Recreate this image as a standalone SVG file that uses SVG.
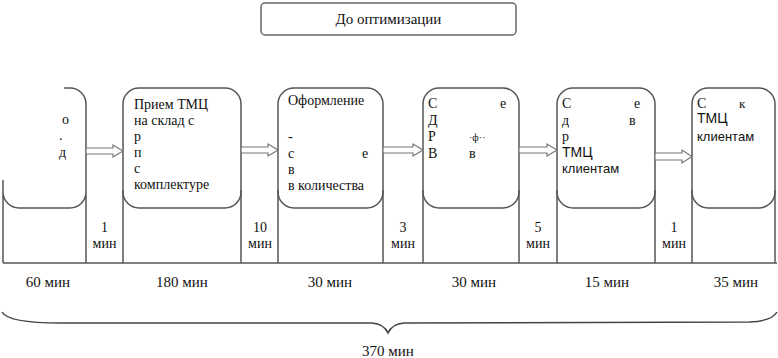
<svg xmlns="http://www.w3.org/2000/svg" width="778" height="358" viewBox="0 0 778 358">
<style>
.box{fill:#fff;stroke:#555;stroke-width:1.5}
.ln{stroke:#555;stroke-width:1.5;fill:none}
.arr{fill:#fff;stroke:#777;stroke-width:1.2}
.t{font-family:"Liberation Serif","Times New Roman",serif;fill:#111}
.s{font-family:"Liberation Sans",Arial,sans-serif;fill:#111}
</style>
<rect width="778" height="358" fill="#fff"/>
<g id="title">
<rect x="261" y="3" width="255" height="32" rx="4" fill="#fff" stroke="#666" stroke-width="1.5"/>
<text class="t" x="388.5" y="24" font-size="15" text-anchor="middle">До оптимизации</text>
</g>
<g id="box1">
<path class="ln" d="M64,88 H70 A16,16 0 0 1 86,104 V263 M86,192 A16,16 0 0 1 70,208 H19 A16,16 0 0 1 3,192 M3,180 V263"/>
<text class="t" font-size="14" x="62" y="124">о</text>
<text class="t" font-size="14" x="59" y="140">.</text>
<text class="t" font-size="14" x="59" y="157">д</text>
</g>
<g id="box2">
<rect class="box" x="123" y="88" width="118" height="120" rx="16"/>
<path class="ln" d="M123,190 V263 M241,190 V263"/>
<text class="t" font-size="14" x="134" y="109">Прием ТМЦ</text>
<text class="t" font-size="14" x="134" y="125">на склад с</text>
<text class="t" font-size="14" x="134" y="141">р</text>
<text class="t" font-size="14" x="134" y="157">п</text>
<text class="t" font-size="14" x="134" y="173">с</text>
<text class="t" font-size="14" x="134" y="189">комплектуре</text>
</g>
<g id="box3">
<rect class="box" x="278" y="88" width="105" height="120" rx="16"/>
<path class="ln" d="M278,190 V263 M383,190 V263"/>
<text class="t" font-size="14" x="288" y="105">Оформление</text>
<text class="t" font-size="14" x="288" y="141">-</text>
<text class="t" font-size="14" x="288" y="158">с</text>
<text class="t" font-size="14" x="362" y="158">е</text>
<text class="t" font-size="14" x="288" y="174">в</text>
<text class="t" font-size="14" x="288" y="190">в количества</text>
</g>
<g id="box4">
<rect class="box" x="423" y="88" width="96" height="120" rx="16"/>
<path class="ln" d="M423,190 V263 M519,190 V263"/>
<text class="t" font-size="14" x="428" y="108">С</text>
<text class="t" font-size="14" x="500" y="108">е</text>
<text class="t" font-size="14" x="428" y="125">Д</text>
<text class="t" font-size="14" x="428" y="141">Р</text>
<text class="t" font-size="10" x="469" y="141">·ф··</text>
<text class="t" font-size="14" x="428" y="158">В</text>
<text class="t" font-size="14" x="469" y="158">в</text>
</g>
<g id="box5">
<rect class="box" x="557" y="88" width="98" height="120" rx="16"/>
<path class="ln" d="M557,190 V263 M655,190 V263"/>
<text class="t" font-size="14" x="562" y="108">С</text>
<text class="t" font-size="14" x="634" y="108">е</text>
<text class="t" font-size="14" x="562" y="125">д</text>
<text class="t" font-size="14" x="629" y="125">в</text>
<text class="t" font-size="14" x="562" y="141">р</text>
<text class="s" font-size="14" x="562" y="157">ТМЦ</text>
<text class="s" font-size="13" x="562" y="173">клиентам</text>
</g>
<g id="box6">
<rect class="box" x="692" y="88" width="83" height="120" rx="16"/>
<path class="ln" d="M692,190 V263 M775,190 V263"/>
<text class="t" font-size="14" x="697" y="108">С</text>
<text class="t" font-size="13" x="739" y="108">к</text>
<text class="s" font-size="14" x="697" y="123">ТМЦ</text>
<text class="s" font-size="13" x="697" y="141">клиентам</text>
</g>
<g id="connectors">
<polygon class="arr" points="86,148 113,148 113,145 123,151 113,157 113,154 86,154"/>
<polygon class="arr" points="241,147 268,147 268,144 278,150 268,156 268,153 241,153"/>
<polygon class="arr" points="383,147 413,147 413,144 423,150 413,156 413,153 383,153"/>
<polygon class="arr" points="519,147 547,147 547,144 557,150 547,156 547,153 519,153"/>
<polygon class="arr" points="655,153 682,153 682,150 692,156.5 682,163 682,160 655,160"/>
</g>
<g id="timeline">
<line class="ln" x1="3" y1="263" x2="777" y2="263"/>
<g class="t" font-size="14" text-anchor="middle">
<text x="104.5" y="232">1</text><text x="104.5" y="248">мин</text>
<text x="260" y="232">10</text><text x="260" y="248">мин</text>
<text x="403" y="232">3</text><text x="403" y="248">мин</text>
<text x="538" y="232">5</text><text x="538" y="248">мин</text>
<text x="674" y="232">1</text><text x="674" y="248">мин</text>
</g>
<g class="t" font-size="15" text-anchor="middle">
<text x="48" y="287">60 мин</text>
<text x="182" y="287">180 мин</text>
<text x="330" y="287">30 мин</text>
<text x="474" y="287">30 мин</text>
<text x="607" y="287">15 мин</text>
<text x="736" y="287">35 мин</text>
</g>
<path d="M2,312 Q8,323 60,323 L372,323 Q384,324 388,333 Q392,324 404,323 L750,322 Q772,321 777,312" fill="none" stroke="#444" stroke-width="1.5"/>
<text class="t" font-size="15" x="388" y="356" text-anchor="middle">370 мин</text>
</g>
</svg>
